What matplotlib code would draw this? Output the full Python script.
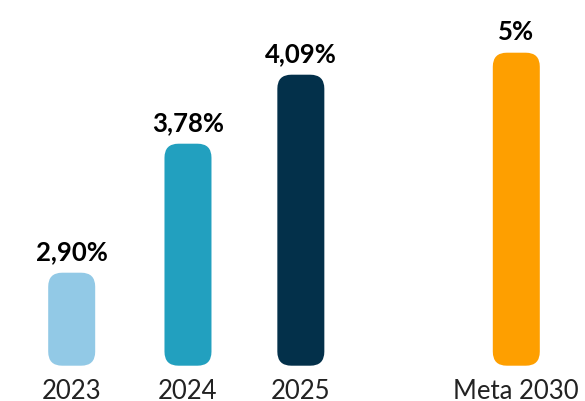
import matplotlib.pyplot as plt
from matplotlib.patches import FancyBboxPatch

plt.rcParams['font.family'] = ['Lato', 'DejaVu Sans']

categories = ['2023', '2024', '2025', 'Meta 2030']
values = [2.90, 3.78, 4.09, 5]
labels = ['2,90%', '3,78%', '4,09%', '5%']
# bar heights as drawn in the picture (arbitrary units, not proportional to values)
bar_heights = [93, 222, 291, 313]
colors = ['#92C9E6', '#22A0BF', '#03304A', '#FE9F00']
positions = [0, 1.02, 2.01, 3.9]

W, H = 585, 402
fig = plt.figure(figsize=(W / 100, H / 100), dpi=100)
bottom_px = 35.3
ax = fig.add_axes([0, bottom_px / H, 1, 1 - bottom_px / H])
x0_px, unit_px = 71.7, 114
ax.set_xlim(-x0_px / unit_px, (W - x0_px) / unit_px)
ax.set_ylim(0, H - bottom_px)

width = 47 / unit_px
radius_px = 14
for x, h, c, lab in zip(positions, bar_heights, colors, labels):
    patch = FancyBboxPatch((x - width / 2, 0), width, h,
                           boxstyle=f'round,pad=0,rounding_size={radius_px / unit_px}',
                           mutation_aspect=unit_px, facecolor=c, edgecolor='none')
    ax.add_patch(patch)
    ax.annotate(lab, (x, h), xytext=(0, 7), textcoords='offset points',
                ha='center', va='bottom', fontsize=18.5, fontweight='bold', color='black')

ax.set_xticks(positions)
ax.set_xticklabels(categories, fontsize=18.5, color='#222222')
ax.tick_params(axis='x', length=0, pad=8.5)
ax.set_yticks([])
for s in ax.spines.values():
    s.set_visible(False)

fig.savefig('out.png', dpi=100)
